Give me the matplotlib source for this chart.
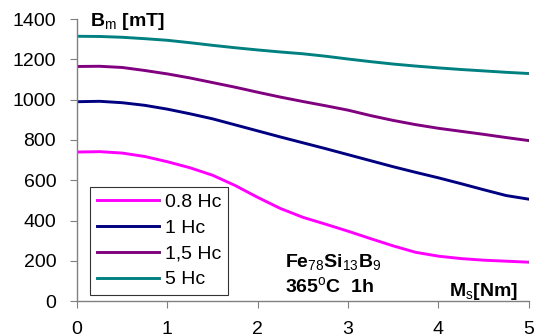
import matplotlib
matplotlib.use("Agg")
import matplotlib.pyplot as plt

plt.rcParams['font.family'] = ['Liberation Sans', 'DejaVu Sans']
plt.rcParams['mathtext.fontset'] = 'custom'
plt.rcParams['mathtext.rm'] = 'Liberation Sans'
plt.rcParams['mathtext.bf'] = 'Liberation Sans:bold'

x = [0, 0.25, 0.5, 0.75, 1, 1.25, 1.5, 1.75, 2, 2.25, 2.5,
     2.75, 3, 3.25, 3.5, 3.75, 4, 4.25, 4.5, 4.75, 5]
hc08 = [740, 742, 735, 718, 692, 662, 625, 574, 515, 460, 416,
        382, 347, 310, 274, 242, 223, 211, 203, 198, 193]
hc1 = [990, 992, 985, 972, 953, 930, 905, 875, 845, 815, 786,
       757, 727, 697, 667, 639, 612, 583, 553, 524, 506]
hc15 = [1165, 1166, 1160, 1145, 1128, 1108, 1085, 1062, 1037, 1013, 991,
        970, 948, 921, 897, 876, 858, 843, 828, 812, 797]
hc5 = [1315, 1314, 1310, 1303, 1295, 1283, 1270, 1258, 1247, 1237, 1228,
       1216, 1202, 1189, 1177, 1167, 1158, 1150, 1143, 1136, 1130]
labels = ['0.8 Hc', '1 Hc', '1,5 Hc', '5 Hc']
colors = ['#FF00FF', '#000080', '#800080', '#008080']
xticks = [0, 1, 2, 3, 4, 5]
yticks = [0, 200, 400, 600, 800, 1000, 1200, 1400]

fig = plt.figure(figsize=(5.39, 3.36), dpi=100)
ax = fig.add_axes([0.143, 0.104, 0.838, 0.839])
for ys, lab, c in zip([hc08, hc1, hc15, hc5], labels, colors):
    ax.plot(x, ys, color=c, lw=2.1, label=lab)

ax.set_xlim(0, 5)
ax.set_ylim(0, 1400)
ax.set_xticks(xticks)
ax.set_yticks(yticks)
ax.tick_params(labelsize=14, length=5, color='#808080', direction='out')
ax.tick_params(axis='y', pad=10)
ax.tick_params(axis='x', pad=9)
for s in ['top', 'right']:
    ax.spines[s].set_visible(False)
for s in ['left', 'bottom']:
    ax.spines[s].set_color('#808080')
    ax.spines[s].set_linewidth(1.0)

leg = ax.legend(loc='lower left', bbox_to_anchor=(0.029, 0.021), borderaxespad=0,
                fontsize=14, frameon=True, fancybox=False, edgecolor='black',
                handlelength=3.2, handletextpad=0.3, labelspacing=0.42, borderpad=0.35)
leg.get_frame().set_linewidth(0.8)

ax.text(0.029, 0.975, r'B$_\mathrm{m}$ [mT]', transform=ax.transAxes, fontsize=14,
        fontweight='bold', va='baseline', ha='left')
ax.text(0.46, 0.117, r'Fe$_\mathrm{78}$Si$_\mathrm{13}$B$_\mathrm{9}$', transform=ax.transAxes,
        fontsize=14, fontweight='bold', va='baseline', ha='left')
ax.text(0.46, 0.028, r'365$^\mathrm{o}$C  1h', transform=ax.transAxes,
        fontsize=14, fontweight='bold', va='baseline', ha='left')
ax.text(0.976, 0.018, r'M$_\mathrm{s}$[Nm]', transform=ax.transAxes,
        fontsize=14, fontweight='bold', va='baseline', ha='right')

fig.savefig('out.png', dpi=100)
